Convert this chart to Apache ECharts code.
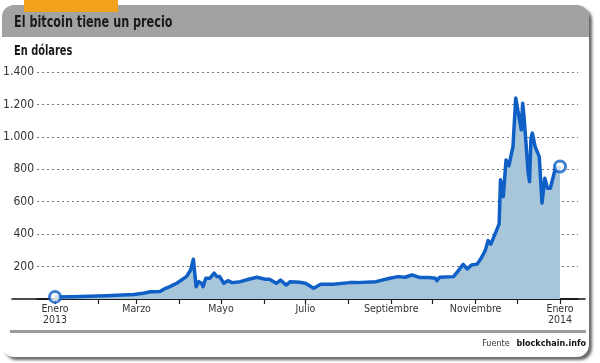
<!DOCTYPE html>
<html>
<head>
<meta charset="utf-8">
<script src="https://cdn.jsdelivr.net/npm/echarts@6/dist/echarts.min.js"></script>
<style>
html,body{margin:0;padding:0;background:#fff;}
#c{width:600px;height:363px;}
</style>
</head>
<body>
<div id="c"></div>
<script>
const dates = [
'2013-01-01','2013-01-14','2013-02-07','2013-02-27','2013-03-06','2013-03-11','2013-03-18','2013-03-22','2013-03-25','2013-03-30',
'2013-04-06','2013-04-09','2013-04-11','2013-04-13','2013-04-15','2013-04-17','2013-04-18','2013-04-20','2013-04-23','2013-04-26',
'2013-04-28','2013-04-30','2013-05-03','2013-05-06','2013-05-09','2013-05-15','2013-05-21','2013-05-27','2013-06-02','2013-06-05',
'2013-06-10','2013-06-13','2013-06-17','2013-06-20','2013-06-27','2013-07-01','2013-07-07','2013-07-12','2013-07-21','2013-08-02',
'2013-08-07','2013-08-21','2013-08-31','2013-09-06','2013-09-11','2013-09-16','2013-09-22','2013-09-28','2013-10-03','2013-10-04',
'2013-10-06','2013-10-16','2013-10-19','2013-10-23','2013-10-26','2013-10-29','2013-11-02','2013-11-05','2013-11-08','2013-11-10',
'2013-11-12','2013-11-16','2013-11-18','2013-11-19','2013-11-21','2013-11-23','2013-11-25','2013-11-28','2013-11-30','2013-12-04',
'2013-12-05','2013-12-06','2013-12-09','2013-12-10','2013-12-11','2013-12-12','2013-12-14','2013-12-15','2013-12-17','2013-12-19',
'2013-12-21','2013-12-23','2013-12-25','2013-12-29','2013-12-30','2014-01-01'
];
const prices = [
13,14,20,28,35,45,47,66,76,97,
138,179,245,76,107,97,76,128,128,159,
138,138,97,113,101,107,122,134,122,122,
97,117,86,107,103,97,66,91,91,101,
101,107,128,138,134,148,132,132,128,113,
134,138,169,214,185,210,215,251,300,360,
338,420,463,735,631,858,821,940,1239,1043,
1208,1125,776,724,992,1023,940,951,878,591,
745,683,683,817,795,817
];
const monthLabels = ['Enero','','Marzo','','Mayo','','Julio','','Septiembre','','Noviembre',''];
const yMax = 1400;
const yStep = 200;
const title = 'El bitcoin tiene un precio';
const subtitle = 'En dólares';

const condensed = "'DejaVu Sans Condensed','Liberation Sans Narrow','Roboto',sans-serif";
const chart = echarts.init(document.getElementById('c'), null, {renderer:'canvas'});
const lineData = dates.map((d,i)=>[d, prices[i]]);
const endPoints = [lineData[0], lineData[lineData.length-1]];

function fmtY(v){
  if (v === 0) return '';
  if (v >= 1000) return Math.floor(v/1000) + '.' + String(v%1000).padStart(3,'0');
  return String(v);
}
function fmtX(v){
  const d = new Date(v);
  if (d.getDate() !== 1) return '';
  const m = d.getMonth();
  const n = monthLabels[m];
  if (!n) return '';
  return m === 0 ? n + '\n' + d.getFullYear() : n;
}

chart.setOption({
  animation:false,
  backgroundColor:'#fff',
  graphic:[
    {type:'rect', z:-10, shape:{x:2,y:5,width:587,height:352,r:12}, style:{fill:'#fff', shadowBlur:3, shadowOffsetX:3, shadowOffsetY:3, shadowColor:'rgba(0,0,0,0.6)'}},
    {type:'rect', z:-9, shape:{x:2,y:5,width:587,height:32,r:[12,12,0,0]}, style:{fill:'#a2a2a2'}},
    {type:'rect', z:-8, shape:{x:24,y:0,width:94,height:12}, style:{fill:'#f2a21a'}},
    {type:'text', z:5, x:14, y:15, scaleX:0.78, style:{text:title, fill:'#1a1a1a', font:"bold 16px "+condensed}},
    {type:'text', z:5, x:14, y:44, scaleX:0.78, style:{text:subtitle, fill:'#1a1a1a', font:"bold 14px "+condensed}},
    {type:'rect', z:-7, shape:{x:10,y:330,width:576,height:3}, style:{fill:'#9a9a9a'}},
    {type:'text', z:5, x:586, y:338, style:{text:'{a|Fuente}  {b|blockchain.info}', align:'right', rich:{a:{fontSize:9, fontFamily:condensed, fill:'#333'}, b:{fontSize:9, fontWeight:'bold', fontFamily:condensed, fill:'#111'}}}}
  ],
  grid:[
    {left:37, right:22, top:72, bottom:64},
    {left:12, right:15, top:72, bottom:64}
  ],
  xAxis:[
    {
      type:'time', gridIndex:0,
      min:new Date(2012,11,19).getTime(),
      max:new Date(2014,0,14).getTime(),
      minInterval:28*86400000, maxInterval:31*86400000,
      axisLine:{show:true, lineStyle:{color:'#111', width:1.5}},
      axisTick:{show:true, length:5, lineStyle:{color:'#222', width:1.2}},
      splitLine:{show:false},
      axisLabel:{formatter:fmtX, color:'#333', fontSize:10.5, fontFamily:condensed, lineHeight:11, margin:5, showMinLabel:false, showMaxLabel:false, hideOverlap:false, interval:0}
    },
    {
      type:'value', gridIndex:1, min:0, max:1,
      axisLine:{show:true, lineStyle:{color:'#111', width:1.5}},
      axisTick:{show:false}, axisLabel:{show:false}, splitLine:{show:false}
    }
  ],
  yAxis:[
    {
      type:'value', gridIndex:0, min:0, max:yMax, interval:yStep,
      axisLine:{show:false}, axisTick:{show:false},
      splitLine:{show:true, lineStyle:{color:'#777', type:[2,3], width:1}},
      axisLabel:{formatter:fmtY, color:'#333', fontSize:12, fontFamily:condensed, margin:3}
    },
    {type:'value', gridIndex:1, min:0, max:1, show:false}
  ],
  series:[
    {
      type:'line', xAxisIndex:0, yAxisIndex:0, data:lineData,
      symbol:'none', smooth:false,
      lineStyle:{color:'#0f5fc6', width:3.5, join:'round'},
      areaStyle:{color:'#a7c6da', opacity:1},
      z:2
    },
    {
      type:'scatter', xAxisIndex:0, yAxisIndex:0, data:endPoints,
      symbol:'circle', symbolSize:11,
      itemStyle:{color:'#fff', borderColor:'#0f5fc6', borderWidth:3},
      z:5
    }
  ]
});
</script>
</body>
</html>
